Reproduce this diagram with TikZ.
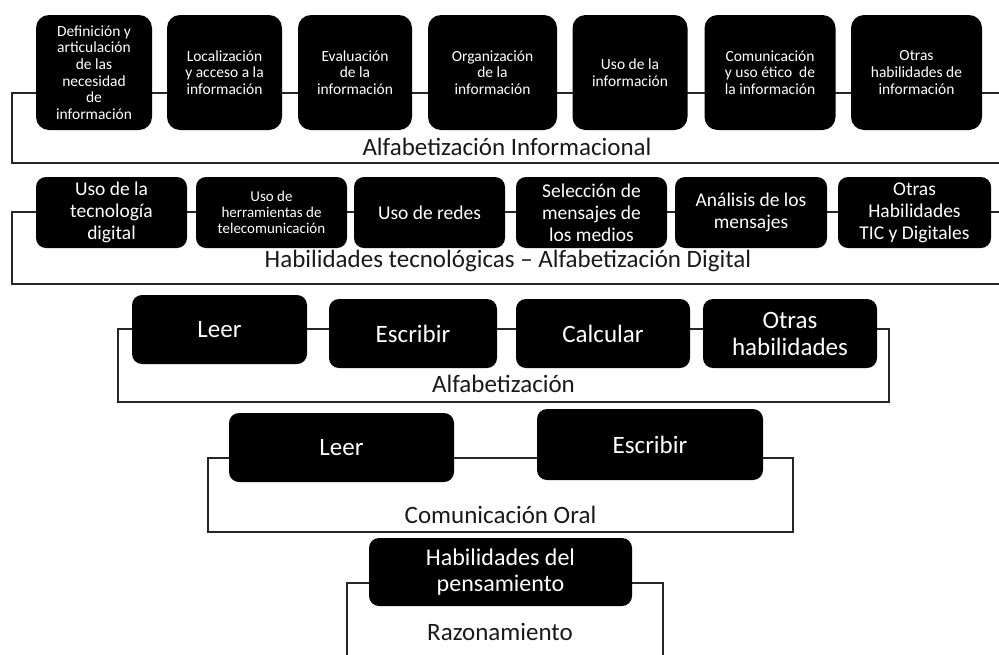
\documentclass[tikz,border=0pt]{standalone}
\usepackage{fontspec}
\setmainfont{Carlito}
\begin{document}
\begin{tikzpicture}[x=1pt,y=-1pt,
  frame/.style={draw=black!85, line width=2pt, inner sep=0pt},
  lbl/.style={anchor=base, inner sep=0pt, text=black!90, font=\fontsize{25pt}{27pt}\selectfont},
  bx/.style={fill=black, text=white, align=center, inner sep=0pt, rounded corners=#1},
  bx/.default=10pt,
  rowA/.style={bx=13pt, minimum height=115pt, font=\fontsize{15.5pt}{16.7pt}\selectfont},
  rowB/.style={bx=10pt, minimum height=71pt, font=\fontsize{19.5pt}{22pt}\selectfont},
  rowBs/.style={bx=10pt, minimum height=71pt, font=\fontsize{15pt}{15.8pt}\selectfont},
  rowC/.style={bx=10pt, font=\fontsize{25pt}{27pt}\selectfont},
]
\useasboundingbox (0,0) rectangle (999,654);
\clip (0,0) rectangle (999,654);

% frames
\node[frame, minimum width=990pt, minimum height=70pt] (f1) at (507,128) {};
\node[frame, minimum width=990pt, minimum height=72pt] (f2) at (507,248) {};
\node[frame, minimum width=771pt, minimum height=73pt] (f3) at (503.5,365.5) {};
\node[frame, minimum width=585pt, minimum height=74pt] (f4) at (500.5,495) {};
\node[frame, minimum width=316pt, minimum height=97pt] (f5) at (505,631.5) {};

% frame labels
\node[lbl] (l1) at (507,155) {Alfabetización Informacional};
\node[lbl] (l2) at (508,267) {Habilidades tecnológicas – Alfabetización Digital};
\node[lbl] (l3) at (503.5,392) {Alfabetización};
\node[lbl] (l4) at (500.5,523) {Comunicación Oral};
\node[lbl] (l5) at (500,640) {Razonamiento};

% row 1
\node[rowA, minimum width=116pt] (a1) at (94,72.5) {Definición y\\articulación\\de las\\necesidad\\de\\información};
\node[rowA, minimum width=115pt] (a2) at (224.5,72.5) {Localización\\y acceso a la\\información};
\node[rowA, minimum width=114pt] (a3) at (355,72.5) {Evaluación\\de la\\información};
\node[rowA, minimum width=129pt] (a4) at (492.5,72.5) {Organización\\de la\\información};
\node[rowA, minimum width=115pt] (a5) at (630,72.5) {Uso de la\\información};
\node[rowA, minimum width=131pt] (a6) at (770,72.5) {Comunicación\\y uso ético~ de\\la información};
\node[rowA, minimum width=131pt] (a7) at (916.5,72.5) {Otras\\habilidades de\\información};

% row 2
\node[rowB, minimum width=151pt] (b1) at (111.5,212.5) {Uso de la\\tecnología\\digital};
\node[rowBs, minimum width=151pt] (b2) at (271.5,212.5) {Uso de\\herramientas de\\telecomunicación};
\node[rowB, minimum width=151pt] (b3) at (429.5,212.5) {Uso de redes};
\node[rowB, minimum width=151pt] (b4) at (591.5,212.5) {Selección de\\mensajes de\\los medios};
\node[rowB, minimum width=152pt] (b5) at (751,212.5) {Análisis de los\\mensajes};
\node[rowB, minimum width=153pt] (b6) at (914.5,212.5) {Otras\\Habilidades\\TIC y Digitales};

% row 3
\node[rowC, minimum width=175pt, minimum height=69pt] (c1) at (219.5,329.5) {Leer};
\node[rowC, minimum width=168pt, minimum height=69pt] (c2) at (413,333.5) {Escribir};
\node[rowC, minimum width=174pt, minimum height=69pt] (c3) at (603,333.5) {Calcular};
\node[rowC, minimum width=174pt, minimum height=69pt] (c4) at (790,333.5) {Otras\\habilidades};

% row 4
\node[rowC, minimum width=225pt, minimum height=69pt] (d1) at (341.5,447.5) {Leer};
\node[rowC, minimum width=226pt, minimum height=71pt] (d2) at (650,444.5) {Escribir};

% row 5
\node[rowC, minimum width=263pt, minimum height=68pt, font=\fontsize{24pt}{25.5pt}\selectfont] (e1) at (500.5,572) {Habilidades del\\pensamiento};
\end{tikzpicture}
\end{document}
